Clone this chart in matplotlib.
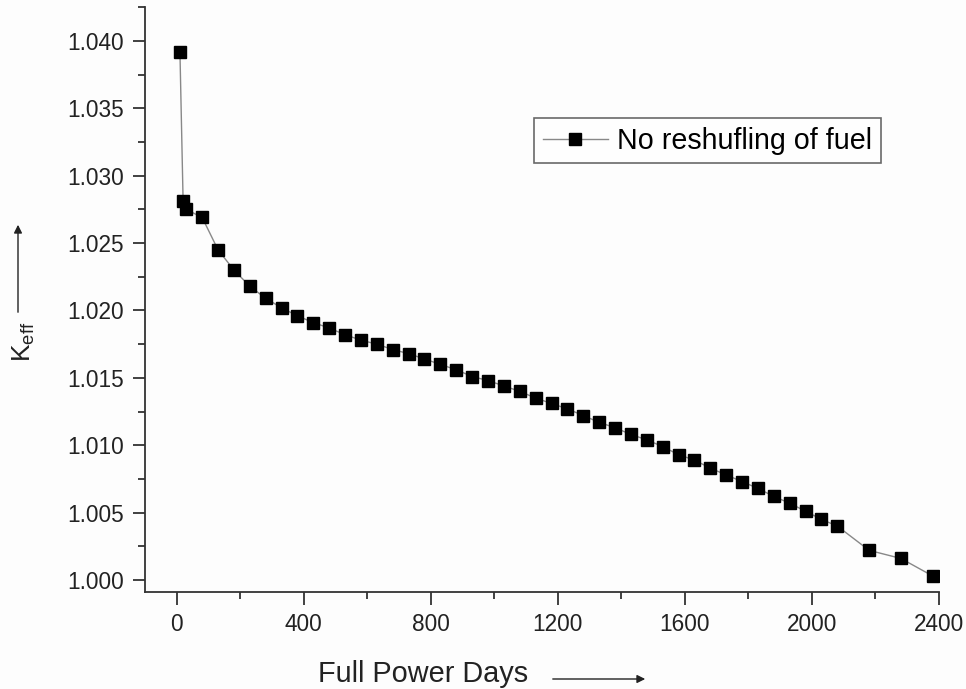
import matplotlib
matplotlib.use("Agg")
import matplotlib.pyplot as plt
from matplotlib.ticker import MultipleLocator, FormatStrFormatter

plt.rcParams['font.family'] = ['Liberation Sans', 'DejaVu Sans']
plt.rcParams['mathtext.fontset'] = 'custom'
plt.rcParams['mathtext.rm'] = 'Liberation Sans'
plt.rcParams['mathtext.it'] = 'Liberation Sans'

# Data
paivat = [10, 20, 30, 80, 130, 180, 230, 280, 330, 380, 430, 480, 530, 580,
          630, 680, 730, 780, 830, 880, 930, 980, 1030, 1080, 1130, 1180,
          1230, 1280, 1330, 1380, 1430, 1480, 1530, 1580, 1630, 1680, 1730,
          1780, 1830, 1880, 1930, 1980, 2030, 2080, 2180, 2280, 2380]
keff = [1.0392, 1.0281, 1.0275, 1.0269, 1.0245, 1.0230, 1.0218, 1.0209,
        1.0202, 1.0196, 1.0191, 1.0187, 1.0182, 1.0178, 1.0175, 1.0171,
        1.0168, 1.0164, 1.0160, 1.0156, 1.0151, 1.0148, 1.0144, 1.0140,
        1.0135, 1.0131, 1.0127, 1.0122, 1.0117, 1.0113, 1.0108, 1.0104,
        1.0099, 1.0093, 1.0089, 1.0083, 1.0078, 1.0073, 1.0068, 1.0062,
        1.0057, 1.0051, 1.0045, 1.0040, 1.0022, 1.0016, 1.0003]
sarjan_nimi = "No reshufling of fuel"

W, H = 966, 689
fig = plt.figure(figsize=(W / 100, H / 100), dpi=100, facecolor='#fdfdfd')
ax = fig.add_axes([145 / W, (H - 592) / H, 794 / W, 585 / H])
ax.set_facecolor('#fdfdfd')

ax.plot(paivat, keff, color='#888888', lw=1.0, marker='s', markersize=9.3,
        markerfacecolor='black', markeredgecolor='black', label=sarjan_nimi)

ax.set_xlim(-100, 2400)
ax.set_ylim(0.99911, 1.04252)
ax.xaxis.set_major_locator(MultipleLocator(400))
ax.xaxis.set_minor_locator(MultipleLocator(200))
ax.yaxis.set_major_locator(MultipleLocator(0.005))
ax.yaxis.set_minor_locator(MultipleLocator(0.0025))
ax.yaxis.set_major_formatter(FormatStrFormatter('%.3f'))

for s in ['top', 'right']:
    ax.spines[s].set_visible(False)
for s in ['left', 'bottom']:
    ax.spines[s].set_linewidth(1.3)
    ax.spines[s].set_color('#333333')

ax.tick_params(axis='both', which='major', direction='out', length=9,
               width=1.3, color='#333333', labelsize=16.3, labelcolor='#222222')
ax.tick_params(axis='both', which='minor', direction='out', length=5,
               width=1.3, color='#333333')
ax.tick_params(axis='y', which='major', pad=6)
ax.tick_params(axis='x', which='major', pad=6)

leg = ax.legend(loc='upper left', bbox_to_anchor=(534 / W, (H - 118) / H),
                bbox_transform=fig.transFigure, fontsize=20.6, fancybox=False,
                frameon=True, handlelength=2.3, handletextpad=0.3,
                borderpad=0.3, borderaxespad=0)
leg.get_frame().set_edgecolor('#444444')
leg.get_frame().set_linewidth(1.2)

# Akselien otsikot nuolineen
fig.text(318 / W, (H - 674) / H, "Full Power Days", fontsize=20.8,
         color='#222222', ha='left', va='center')
fig.add_artist(matplotlib.patches.FancyArrowPatch(
    (550 / W, (H - 679) / H), (648 / W, (H - 679) / H),
    transform=fig.transFigure, arrowstyle='-|>', mutation_scale=12,
    lw=1.0, color='#222222'))

fig.text(24 / W, (H - 342) / H, r"K$_{\mathrm{eff}}$", fontsize=19,
         rotation=90, color='#222222', ha='center', va='center')
fig.add_artist(matplotlib.patches.FancyArrowPatch(
    (18 / W, (H - 315) / H), (18 / W, (H - 222) / H),
    transform=fig.transFigure, arrowstyle='-|>', mutation_scale=12,
    lw=1.0, color='#222222'))

fig.savefig("out.png", dpi=100, facecolor=fig.get_facecolor())
